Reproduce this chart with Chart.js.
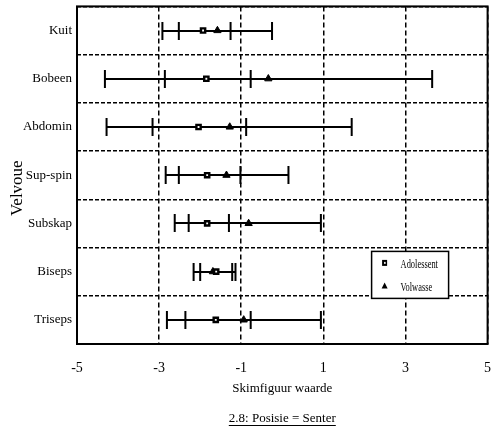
<!DOCTYPE html>
<html>
<head>
<meta charset="utf-8">
<script src="https://cdn.jsdelivr.net/npm/chart.js@4/dist/chart.umd.min.js"></script>
<style>
  html, body { margin: 0; padding: 0; background: #fff; }
  #c { display: block; }
</style>
</head>
<body>
<canvas id="c" width="494" height="440"></canvas>
<script>
// Muscle groups (top to bottom)
const categories = ['Kuit', 'Bobeen', 'Abdomin', 'Sup-spin', 'Subskap', 'Biseps', 'Triseps'];

// Adolescents: mean and range
const adolMean = [-1.93, -1.85, -2.04, -1.83, -1.83, -1.61, -1.62];
const adolLow  = [-2.52, -2.86, -3.16, -2.52, -2.28, -2.00, -2.36];
const adolHigh = [-1.26, -0.77, -0.88, -1.02, -1.30, -1.22, -0.77];

// Adults: mean and range
const volMean = [-1.58, -0.34, -1.28, -1.36, -0.82, -1.69, -0.94];
const volLow  = [-2.92, -4.32, -4.28, -2.84, -2.62, -2.16, -2.81];
const volHigh = [-0.25,  3.65,  1.69,  0.15,  0.94, -1.14,  0.94];

const xTicks = [-5, -3, -1, 1, 3, 5];
const seriesNames = ['Adolessent', 'Volwasse'];
const xTitle = 'Skimfiguur waarde';
const yTitle = 'Velvoue';
const caption = '2.8: Posisie = Senter';

const SERIF = '"Liberation Serif", "Times New Roman", Times, serif';

// Frame and horizontal range bars with end caps, drawn beneath the markers
const rangeBars = {
  id: 'rangeBars',
  beforeDatasetsDraw(chart) {
    const { ctx, chartArea: a, scales: { x, y } } = chart;
    ctx.save();
    ctx.strokeStyle = '#000';
    ctx.lineWidth = 2;
    ctx.setLineDash([]);
    ctx.strokeRect(a.left, a.top, a.width, a.height);
    const cap = 9;
    const bar = (lo, hi, i) => {
      const yp = Math.round(y.getPixelForValue(i));
      const x1 = x.getPixelForValue(lo), x2 = x.getPixelForValue(hi);
      ctx.beginPath();
      ctx.moveTo(x1, yp); ctx.lineTo(x2, yp);
      ctx.moveTo(x1, yp - cap); ctx.lineTo(x1, yp + cap);
      ctx.moveTo(x2, yp - cap); ctx.lineTo(x2, yp + cap);
      ctx.stroke();
    };
    categories.forEach((c, i) => {
      bar(volLow[i], volHigh[i], i);
      bar(adolLow[i], adolHigh[i], i);
    });
    ctx.restore();
  }
};

// Narrow serif text: draw with a horizontal squeeze
function squeezedText(ctx, text, x, y, sx) {
  ctx.save();
  ctx.translate(x, y);
  ctx.scale(sx, 1);
  ctx.fillText(text, 0, 0);
  ctx.restore();
}

// Boxed legend inside the plot, rotated y title and underlined caption
const annotations = {
  id: 'annotations',
  afterDraw(chart) {
    const { ctx, chartArea: a } = chart;
    ctx.save();
    ctx.fillStyle = '#000';
    ctx.strokeStyle = '#000';

    // legend box
    const bx = a.right - 116, by = a.top + 245, bw = 77, bh = 47;
    ctx.fillStyle = '#fff';
    ctx.fillRect(bx, by, bw, bh);
    ctx.lineWidth = 1.5;
    ctx.strokeRect(bx, by, bw, bh);
    ctx.fillStyle = '#000';
    // square marker
    ctx.fillRect(bx + 10.5, by + 8.5, 5, 6);
    ctx.fillStyle = '#fff';
    ctx.fillRect(bx + 12.5, by + 10.5, 1.5, 2);
    ctx.fillStyle = '#000';
    // triangle marker
    ctx.beginPath();
    ctx.moveTo(bx + 13, by + 31);
    ctx.lineTo(bx + 16, by + 37);
    ctx.lineTo(bx + 10, by + 37);
    ctx.closePath();
    ctx.fill();
    ctx.font = '12px ' + SERIF;
    ctx.textBaseline = 'middle';
    ctx.textAlign = 'left';
    squeezedText(ctx, seriesNames[0], bx + 29, by + 13, 0.7);
    squeezedText(ctx, seriesNames[1], bx + 29, by + 36, 0.7);

    // y title
    ctx.save();
    ctx.translate(18, (a.top + a.bottom) / 2 + 13);
    ctx.rotate(-Math.PI / 2);
    ctx.font = '17px ' + SERIF;
    ctx.textAlign = 'center';
    ctx.textBaseline = 'middle';
    ctx.fillText(yTitle, 0, 0);
    ctx.restore();

    // caption
    const cx = (a.left + a.right) / 2;
    ctx.font = '13px ' + SERIF;
    ctx.textAlign = 'center';
    ctx.textBaseline = 'alphabetic';
    ctx.fillText(caption, cx, 422);
    const w = ctx.measureText(caption).width;
    ctx.lineWidth = 1;
    ctx.beginPath();
    ctx.moveTo(cx - w / 2, 425.5);
    ctx.lineTo(cx + w / 2, 425.5);
    ctx.stroke();
    ctx.restore();
  }
};

new Chart(document.getElementById('c'), {
  type: 'scatter',
  data: {
    datasets: [
      {
        label: seriesNames[0],
        data: categories.map((c, i) => ({ x: adolMean[i], y: c })),
        pointStyle: 'rect',
        pointRadius: 3,
        backgroundColor: '#fff',
        borderColor: '#000',
        borderWidth: 2.4
      },
      {
        label: seriesNames[1],
        data: categories.map((c, i) => ({ x: volMean[i], y: c })),
        pointStyle: 'triangle',
        pointRadius: 4.2,
        backgroundColor: '#000',
        borderColor: '#000',
        borderWidth: 1
      }
    ]
  },
  options: {
    responsive: false,
    animation: false,
    devicePixelRatio: 1,
    layout: { padding: { top: 5, right: 6, left: 0, bottom: 0 } },
    plugins: {
      legend: { display: false },
      tooltip: { enabled: false }
    },
    scales: {
      x: {
        type: 'linear',
        min: -5,
        max: 5,
        afterBuildTicks(scale) { scale.ticks = xTicks.map(v => ({ value: v })); },
        afterFit(scale) {
          scale.height = 96;
          scale.paddingLeft = 0;
          scale.paddingRight = 0;
        },
        ticks: {
          color: '#000',
          font: { family: SERIF, size: 14 },
          padding: 16,
          maxRotation: 0
        },
        grid: { color: '#000', lineWidth: 1.5, drawTicks: false },
        border: { display: false, dash: [5, 3] },
        title: {
          display: true,
          text: xTitle,
          color: '#000',
          font: { family: SERIF, size: 13 },
          padding: { top: 0, bottom: 44 }
        }
      },
      y: {
        type: 'category',
        labels: categories,
        offset: true,
        afterFit(scale) {
          scale.width = 77;
          scale.paddingTop = 0;
          scale.paddingBottom = 0;
        },
        ticks: {
          color: '#000',
          font: { family: SERIF, size: 13 },
          padding: 5
        },
        grid: { color: '#000', lineWidth: 1.5, offset: true, drawTicks: false },
        border: { display: false, dash: [4, 2] }
      }
    }
  },
  plugins: [rangeBars, annotations]
});
</script>
</body>
</html>
